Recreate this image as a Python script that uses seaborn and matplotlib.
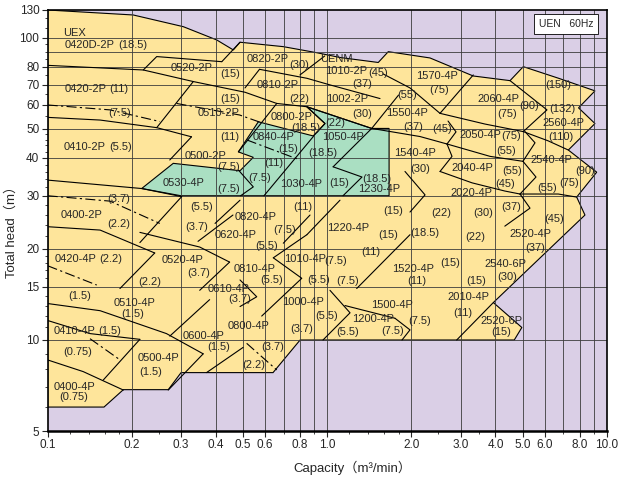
import numpy as np
import matplotlib
matplotlib.use('Agg')
import matplotlib.pyplot as plt
import seaborn as sns

sns.set_style('white')
plt.rcParams['font.family'] = ['Liberation Sans', 'Noto Sans CJK JP', 'DejaVu Sans']

# outer envelope of all models (capacity m3/min, head m)
envelope_cap = [0.1, 0.2024, 0.3056, 0.4024, 0.4614, 0.4876, 0.6966, 0.917, 1.111, 1.523, 1.654,
                2.332, 3.33, 4.51, 5.03, 6.73, 9.08, 7.93, 9.08, 7.29, 9.21, 7.81, 8.36, 3.93,
                4.97, 4.67, 0.8, 0.64, 0.3, 0.27, 0.1865, 0.159, 0.1]
envelope_head = [130, 124, 111, 98.3, 91.1, 96.6, 93.4, 89.2, 86.0, 82.8, 89.9,
                 85.7, 74.7, 72.1, 80.2, 73.4, 66.7, 58.6, 52.0, 42.5, 35.9, 29.7, 25.9, 13.3,
                 11.0, 10, 10, 7.8, 7.8, 6.85, 6.85, 6.0, 6.0]

# UENM area (green)
green_cap = [0.2169, 0.2813, 0.4876, 0.544, 0.481, 0.567, 0.892, 0.982, 0.845, 1.443, 1.665, 1.665, 0.3]
green_head = [31.7, 38.4, 36.3, 40.2, 41.9, 52.7, 47.3, 52.0, 59.1, 50.1, 50.1, 30, 30]

label_text = ["UEX", "0420D-2P", "(18.5)", "0520-2P", "(15)", "0820-2P", "(30)", "0810-2P", "(22)",
              "0420-2P", "(11)", "(15)", "(7.5)", "0510-2P", "0800-2P", "(18.5)", "(11)", "0840-4P",
              "(15)", "0410-2P", "(5.5)", "0500-2P", "UENM", "1010-2P", "(45)", "(37)", "1002-2P",
              "(30)", "(22)", "1050-4P", "(18.5)", "1570-4P", "(75)", "(55)", "1550-4P", "(37)",
              "(45)", "1540-4P", "2060-4P", "(75)", "(90)", "2050-4P", "(75)", "(55)", "(150)",
              "(132)", "2560-4P", "(110)", "2540-4P", "(90)", "(75)", "(55)", "2040-4P", "(55)",
              "(45)", "2020-4P", "(37)", "(30)", "(30)", "(45)", "2520-4P", "(37)", "(18.5)",
              "1230-4P", "(15)", "(15)", "(22)", "1220-4P", "(15)", "(18.5)", "(22)", "(11)",
              "(7.5)", "1520-4P", "(11)", "(15)", "2540-6P", "(30)", "(15)", "2010-4P", "(11)",
              "2520-6P", "(15)", "(5.5)", "(7.5)", "1500-4P", "(7.5)", "1200-4P", "(7.5)", "(5.5)",
              "(5.5)", "(5.5)", "(11)", "0820-4P", "(3.7)", "(7.5)", "0620-4P", "(5.5)", "1010-4P",
              "0520-4P", "(3.7)", "0810-4P", "(5.5)", "0610-4P", "(3.7)", "1000-4P", "0800-4P",
              "(3.7)", "0600-4P", "(1.5)", "(3.7)", "(2.2)", "(3.7)", "0400-2P", "(2.2)", "0420-4P",
              "(2.2)", "(2.2)", "(1.5)", "0510-4P", "(1.5)", "0410-4P", "(1.5)", "(0.75)", "0500-4P",
              "(1.5)", "0400-4P", "(0.75)", "0530-4P", "(7.5)", "(7.5)", "(11)", "(7.5)", "1030-4P"]
label_cap = [0.1245, 0.1416, 0.2013, 0.3275, 0.449, 0.612, 0.795, 0.665, 0.793,
             0.1368, 0.179, 0.449, 0.1815, 0.4077, 0.744, 0.840, 0.449, 0.643,
             0.728, 0.136, 0.183, 0.367, 1.081, 1.168, 1.523, 1.332, 1.174,
             1.332, 1.069, 1.142, 0.962, 2.465, 2.506, 1.925, 1.938, 2.033,
             2.569, 2.061, 4.095, 4.417, 5.27, 3.52, 4.546, 4.363, 6.71,
             6.92, 6.98, 6.86, 6.36, 8.36, 7.33, 6.10, 3.31, 4.57,
             4.345, 3.289, 4.546, 3.62, 2.157, 6.48, 5.32, 5.54, 1.503,
             1.538, 1.108, 1.717, 2.554, 1.192, 1.646, 2.239, 3.38, 1.428,
             1.075, 2.033, 2.09, 2.751, 4.325, 4.417, 3.41, 3.21, 3.044,
             4.21, 4.21, 0.935, 1.182, 1.702, 2.148, 1.462, 1.71, 1.179,
             0.996, 0.356, 0.816, 0.554, 0.341, 0.706, 0.471, 0.608, 0.833,
             0.305, 0.347, 0.549, 0.633, 0.4446, 0.4876, 0.819, 0.522,
             0.811, 0.3615, 0.408, 0.638, 0.547, 0.179, 0.1323, 0.179, 0.1263,
             0.168, 0.231, 0.1305, 0.2052, 0.2013, 0.1245, 0.166, 0.1276, 0.2487,
             0.2336, 0.1242, 0.1242, 0.3056, 0.4455, 0.4446, 0.644, 0.575, 0.806]
label_head = [104.3, 94.6, 94.6, 79.6, 75.9, 84.9, 81.0, 69.8, 62.9,
              67.5, 67.5, 62.9, 56.2, 56.2, 54.8, 50.2, 46.9, 47.1,
              42.9, 43.6, 43.6, 40.5, 84.9, 77.8, 76.4, 70.1, 62.6,
              56.1, 52.3, 47.1, 41.4, 74.6, 67.1, 64.6, 56.5, 50.5,
              49.9, 41.4, 62.5, 56.0, 59.5, 47.7, 47.3, 42.3, 69.5,
              58.2, 52.2, 46.9, 39.3, 36.2, 33.0, 31.8, 37.0, 36.2,
              32.7, 30.7, 27.6, 26.3, 36.7, 25.1, 22.5, 20.2, 34.1,
              31.5, 33.0, 26.7, 26.3, 23.4, 22.3, 22.6, 21.9, 19.6,
              18.2, 17.2, 15.7, 18.0, 17.8, 16.2, 15.7, 13.9, 12.3,
              11.6, 10.6, 15.8, 15.7, 13.1, 11.6, 11.7, 10.7, 10.6,
              12.0, 27.6, 27.6, 25.6, 23.6, 23.2, 22.3, 20.4, 18.6,
              18.4, 16.6, 17.2, 15.8, 14.8, 13.7, 13.4, 11.1,
              10.9, 10.3, 9.45, 9.46, 8.27, 29.2, 26.0, 24.2, 18.6,
              18.6, 15.6, 14.0, 13.3, 12.2, 10.7, 10.7, 9.15, 8.7,
              7.86, 7.0, 6.47, 33.1, 37.4, 31.6, 38.6, 34.4, 32.8]

# region boundaries and head curves: (capacities, heads)
solid_lines = [
    ([0.1, 0.2198, 0.3318, 0.508, 0.66], [81, 78.2, 71.6, 66.0, 60.6]),
    ([0.3318, 0.2455], [71.6, 50.4]),
    ([0.1, 0.154, 0.2455, 0.327], [54.5, 53.4, 50.4, 47.0]),
    ([0.327, 0.2734], [47.0, 39.4]),
    ([0.508, 0.5725], [68.2, 78.6]),
    ([0.5725, 0.846, 1.023, 1.545], [78.6, 73.4, 69.8, 62.9]),
    ([0.66, 0.481], [60.6, 41.9]),
    ([0.2198, 0.2455, 0.3498, 0.4197], [78.2, 86.6, 84.4, 83.3]),
    ([0.4197, 0.4876], [83.3, 96.6]),
    ([0.799, 0.98], [75.3, 87.0]),
    ([0.66, 0.846, 0.982, 0.892], [60.6, 59.1, 52.0, 47.3]),
    ([0.846, 1.443, 2.148, 2.683], [59.1, 50.1, 47.1, 44.5]),
    ([1.443, 1.80], [50.1, 64.6]),
    ([1.443, 1.05], [50.1, 37.4]),
    ([0.1, 0.2169, 0.3015], [33.8, 31.7, 29.8]),
    ([0.1, 0.154, 0.2415], [23.7, 23.1, 19.4]),
    ([0.3015, 0.2137], [29.8, 21.0]),
    ([0.2415, 0.1813], [19.4, 14.8]),
    ([0.2137, 0.3498, 0.4475], [22.7, 20.3, 18.1]),
    ([0.4475, 0.3498], [18.1, 14.6]),
    ([0.345, 0.46], [21.2, 25.9]),
    ([0.1, 0.154, 0.266, 0.36], [13.2, 12.5, 10.5, 9.0]),
    ([0.1, 0.1417, 0.2137], [11.6, 10.5, 10.05]),
    ([0.1, 0.134, 0.1865], [8.59, 7.86, 6.83]),
    ([0.2137, 0.158], [10.05, 7.37]),
    ([0.36, 0.27], [9.0, 6.83]),
    ([0.2734, 0.3797], [10.3, 13.6]),
    ([0.5, 0.37], [9.45, 7.8]),
    ([0.868, 0.6966], [25.9, 20.9]),
    ([0.6415, 0.811, 0.583], [18.7, 16.0, 12.0]),
    ([0.6415, 0.846], [18.7, 22.3]),
    # middle and right families
    ([3.332, 2.533], [75.3, 56.2]),
    ([1.584, 1.978, 2.533], [75.9, 68.2, 56.2]),
    ([2.533, 3.669, 5.03], [56.2, 51.8, 48.9]),
    ([4.51, 6.114, 5.03], [72.1, 57.7, 48.9]),
    ([5.03, 6.166, 7.289], [48.9, 45.6, 42.5]),
    ([2.706, 2.89, 2.683], [53.0, 48.8, 44.5]),
    ([5.102, 5.54, 5.016], [48.9, 44.9, 39.0]),
    ([2.683, 3.824, 5.016], [44.5, 40.5, 39.0]),
    ([5.016, 5.585, 4.896], [39.0, 34.6, 30.4]),
    ([4.896, 6.708, 7.81], [30.4, 30.4, 29.7]),
    ([2.683, 2.796, 2.533], [44.5, 40.5, 36.1]),
    ([2.533, 3.298, 4.32, 4.896], [36.1, 33.1, 31.1, 30.4]),
    ([4.896, 5.316, 4.32], [30.4, 27.3, 23.8]),
    ([3.93, 2.906], [13.3, 10]),
    ([0.397, 0.4876], [24.3, 29.0]),
    ([0.846, 1.111], [22.3, 29.0]),
    ([1.275, 1.978], [14.8, 22.3]),
    ([0.4876, 0.5596, 0.4876], [15.8, 13.9, 12.9]),
    ([1.023, 1.207, 0.966], [14.6, 12.3, 10]),
    ([1.748, 1.978, 1.852], [11.8, 10.8, 10]),
    ([1.158, 1.748], [13.0, 11.8]),
    ([1.05, 1.332, 1.139], [37.4, 34.6, 30]),
    ([1.898, 2.239, 1.978], [36.1, 30.2, 26.5]),
    ([0.481, 0.544, 0.49], [36.5, 32.1, 30]),
    ([0.892, 0.594], [47.1, 30]),
]

# motor output borders
dashdot_lines = [
    ([0.1, 0.167, 0.2518], [59.9, 57.7, 52.8]),
    ([0.289, 0.4858, 0.5725], [60.6, 55.5, 52.6]),
    ([0.1, 0.167, 0.2518], [30.0, 28.8, 24.3]),
    ([0.1, 0.1498], [17.6, 15.2]),
    ([0.1417, 0.1813], [10.1, 8.6]),
    ([0.515, 0.66], [9.75, 7.96]),
    ([0.5157, 0.799], [45.9, 39.4]),
]

x_ticks = [0.1, 0.2, 0.3, 0.4, 0.5, 0.6, 0.8, 1.0, 2.0, 3.0, 4.0, 5.0, 6.0, 8.0, 10.0]
x_ticklabels = ['0.1', '0.2', '0.3', '0.4', '0.5', '0.6', '0.8', '1.0', '2.0', '3.0', '4.0',
                '5.0', '6.0', '8.0', '10.0']
x_minor = [0.12, 0.14, 0.16, 0.18, 0.25, 0.7, 0.9, 1.2, 1.4, 1.6, 1.8, 2.5, 3.5, 7.0, 9.0]
x_grid = [0.2, 0.3, 0.4, 0.5, 0.6, 0.7, 0.8, 0.9, 1, 2, 3, 4, 5, 6, 7, 8, 9]
y_ticks = [5, 10, 15, 20, 30, 40, 50, 60, 70, 80, 100, 130]
y_minor = [6, 7, 8, 9, 11, 12, 13, 14, 16, 17, 18, 19, 22, 24, 26, 28, 32, 34, 36, 38,
           42, 44, 46, 48, 55, 65, 75, 85, 90, 95, 110, 120]
y_grid = [10, 15, 20, 30, 40, 50, 60, 70, 80, 90, 100]

PURPLE = '#dacfe6'
YELLOW = '#fee59b'
GREEN = '#aadfc2'

# the printed chart squeezes the part above 100 m
TOP = 243 / 302.3


def _fwd(v):
    lv = np.log10(np.maximum(v, 1e-9))
    return np.where(lv <= 2, lv, 2 + (lv - 2) * TOP)


def _inv(p):
    return np.where(p <= 2, 10.0 ** p, 10.0 ** (2 + (p - 2) / TOP))


fig = plt.figure(figsize=(6.2, 4.8), dpi=100)
ax = fig.add_axes([47.7 / 620, 49 / 480, 559 / 620, 421 / 480])
ax.set_facecolor(PURPLE)
ax.set_xscale('log')
ax.set_yscale('function', functions=(_fwd, _inv))
ax.set_xlim(0.1, 10)
ax.set_ylim(5, 130)

ax.fill(envelope_cap, envelope_head, facecolor=YELLOW, edgecolor='black', lw=0.8, zorder=1)
ax.fill(green_cap, green_head, facecolor=GREEN, edgecolor='black', lw=0.8, zorder=1.5)

for gx in x_grid:
    ax.axvline(gx, color='#3c3c3c', lw=0.6, zorder=2)
for gy in y_grid:
    ax.axhline(gy, color='#3c3c3c', lw=0.6, zorder=2)

for caps, heads in solid_lines:
    sns.lineplot(x=caps, y=heads, sort=False, estimator=None, color='black', lw=0.8,
                 ax=ax, zorder=3)
for caps, heads in dashdot_lines:
    sns.lineplot(x=caps, y=heads, sort=False, estimator=None, color='black', lw=0.8,
                 linestyle=(0, (9, 3, 2, 3)), ax=ax, zorder=3)

for t, cx, hy in zip(label_text, label_cap, label_head):
    ax.text(cx, hy, t, ha='center', va='center', fontsize=8, zorder=5)

ax.text(0.927, 0.967, 'UEN   60Hz', transform=ax.transAxes, ha='center', va='center',
        fontsize=7.5, zorder=6,
        bbox=dict(boxstyle='square,pad=0.45', facecolor='white', edgecolor='black', lw=0.6))

ax.set_xticks(x_ticks)
ax.set_xticklabels(x_ticklabels)
ax.set_xticks(x_minor, minor=True)
ax.set_xticklabels([], minor=True)
ax.set_yticks(y_ticks)
ax.set_yticklabels([str(v) for v in y_ticks])
ax.set_yticks(y_minor, minor=True)
ax.set_yticklabels([], minor=True)
ax.tick_params(axis='both', which='major', direction='out', length=4, width=0.8,
               labelsize=8.5, pad=2)
ax.tick_params(axis='both', which='minor', direction='out', length=2.5, width=0.6)
ax.tick_params(left=True, bottom=True, which='both')
for side in ax.spines.values():
    side.set_color('black')
    side.set_linewidth(1.2)
ax.spines['bottom'].set_linewidth(1.8)

ax.set_xlabel('Capacity（m³/min）', fontsize=9.5)
ax.set_ylabel('Total head（m）', fontsize=9.5)
ax.xaxis.set_label_coords(0.545, -0.071)
ax.yaxis.set_label_coords(-0.053, 0.48)

fig.savefig('out.png', dpi=100)
